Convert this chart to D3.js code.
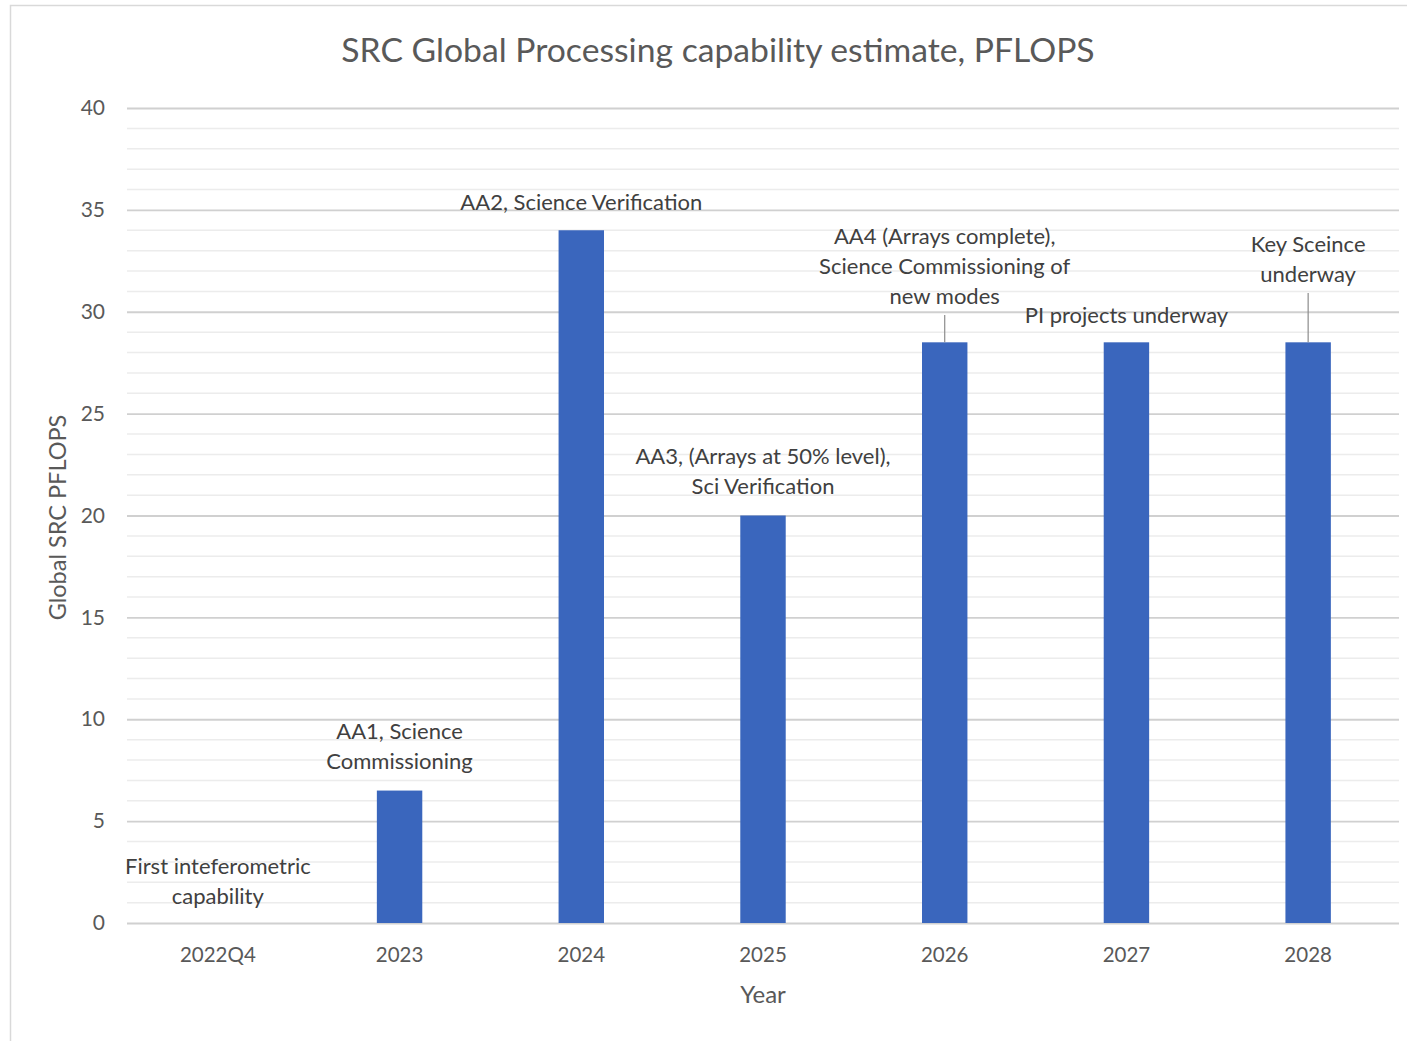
<!DOCTYPE html>
<html>
<head>
<meta charset="utf-8">
<script src="https://cdn.jsdelivr.net/npm/d3@7"></script>
<style>
  html, body { margin: 0; padding: 0; background: #fff; }
  svg { display: block; font-family: Lato, "Open Sans", sans-serif; }
</style>
</head>
<body>
<svg id="chart" width="1407" height="1041"></svg>
<script>
// Years on the x axis and the processing capability for each (PFLOPS)
const categories = ["2022Q4", "2023", "2024", "2025", "2026", "2027", "2028"];
const values = [0, 6.5, 34, 20, 28.5, 28.5, 28.5];

// Milestone notes shown above each bar (one entry per line)
const milestones = [
  ["First inteferometric", "capability"],
  ["AA1, Science", "Commissioning"],
  ["AA2, Science Verification"],
  ["AA3, (Arrays at 50% level),", "Sci Verification"],
  ["AA4 (Arrays complete),", "Science Commissioning of", "new modes"],
  ["PI projects underway"],
  ["Key Sceince", "underway"]
];
// Height of each note's last baseline above its bar top, in value units
const noteLift = [0.93, 1.06, 1.0, 1.05, 1.88, 0.95, 2.96];
// Notes that are tied to their bar with a short leader line
const leaderNotes = ["2026", "2028"];

const yTicks = [0, 5, 10, 15, 20, 25, 30, 35, 40];
const title = "SRC Global Processing capability estimate, PFLOPS";
const yTitle = "Global SRC PFLOPS";
const xTitle = "Year";

const svg = d3.select("#chart");
const plot = { left: 127, right: 1399, top: 108, bottom: 923 };

// outer chart frame
svg.append("rect")
  .attr("x", 10.5).attr("y", 5.5)
  .attr("width", 1400).attr("height", 1050)
  .attr("fill", "#fff").attr("stroke", "#d9d9d9").attr("stroke-width", 1.5);

const x = d3.scaleBand().domain(categories).range([plot.left, plot.right]).paddingInner(0.75).paddingOuter(0.375);
const y = d3.scaleLinear().domain([0, 40]).range([plot.bottom, plot.top]);

// minor gridlines (every 1) then major gridlines (every 5)
const minor = d3.range(0, 41).filter(v => v % 5 !== 0);
svg.append("g").selectAll("line").data(minor).join("line")
  .attr("x1", plot.left).attr("x2", plot.right)
  .attr("y1", d => y(d)).attr("y2", d => y(d))
  .attr("stroke", "#ececec").attr("stroke-width", 1.5);

const yAxis = svg.append("g")
  .attr("transform", `translate(${plot.left},0)`)
  .call(d3.axisLeft(y).tickValues(yTicks).tickSize(-(plot.right - plot.left)).tickPadding(22));
yAxis.select(".domain").remove();
yAxis.selectAll(".tick line").attr("stroke", "#d0d0d0").attr("stroke-width", 1.8);
yAxis.selectAll(".tick text")
  .attr("fill", "#595959").style("font-size", "21px").style("font-family", "Lato, sans-serif");

// bars
svg.append("g").selectAll("rect").data(categories).join("rect")
  .attr("x", d => x(d))
  .attr("width", x.bandwidth())
  .attr("y", (d, i) => y(values[i]))
  .attr("height", (d, i) => y(0) - y(values[i]))
  .attr("fill", "#3a66bd");

// x axis labels
const xAxis = svg.append("g")
  .attr("transform", `translate(0,${plot.bottom})`)
  .call(d3.axisBottom(x).tickSize(0).tickPadding(24));
xAxis.select(".domain").remove();
xAxis.selectAll(".tick text")
  .attr("fill", "#595959").style("font-size", "20.5px").style("font-family", "Lato, sans-serif");

// milestone notes
const lineH = 30;
const notes = svg.append("g").attr("fill", "#404040").style("font-size", "22px");
categories.forEach((c, i) => {
  const lines = milestones[i];
  const cx = x(c) + x.bandwidth() / 2;
  const baseY = y(values[i] + noteLift[i]);
  const t = notes.append("text").attr("text-anchor", "middle");
  lines.forEach((ln, k) => {
    t.append("tspan").attr("x", cx).attr("y", baseY - (lines.length - 1 - k) * lineH).text(ln);
  });
  if (leaderNotes.includes(c)) {
    svg.append("line")
      .attr("x1", cx).attr("x2", cx)
      .attr("y1", baseY + 11).attr("y2", y(values[i]))
      .attr("stroke", "#8c8c8c").attr("stroke-width", 1.2);
  }
});

// titles
svg.append("text")
  .attr("x", 718).attr("y", 62).attr("text-anchor", "middle")
  .attr("fill", "#595959").style("font-size", "33.7px").text(title);

svg.append("text")
  .attr("transform", `translate(66,${(plot.top + plot.bottom) / 2 + 2}) rotate(-90)`)
  .attr("text-anchor", "middle").attr("fill", "#595959").style("font-size", "23.5px").text(yTitle);

svg.append("text")
  .attr("x", (plot.left + plot.right) / 2).attr("y", 1003).attr("text-anchor", "middle")
  .attr("fill", "#595959").style("font-size", "24px").text(xTitle);
</script>
</body>
</html>
